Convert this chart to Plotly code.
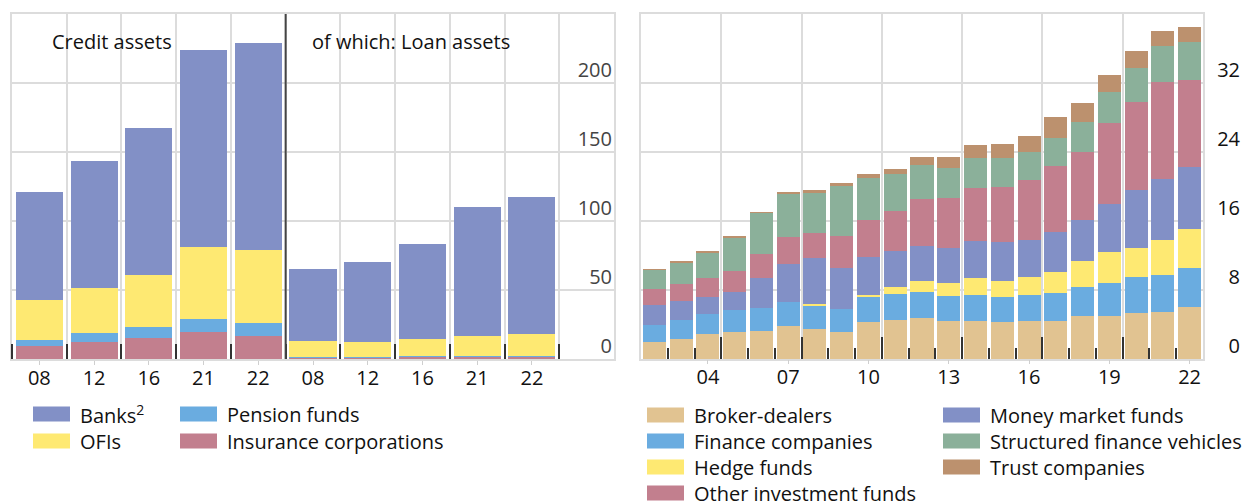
import plotly.graph_objects as go

W, H = 1242, 502


def px(x):
    return x / W


def py(y):
    return 1 - y / H


# ---------------- data: left panel (credit assets / of which loan assets) ----------------
periods = ["08", "12", "16", "21", "22"]
banks_credit = [78.3, 92.5, 106.5, 142.8, 150.5]
ofis_credit = [29.0, 32.6, 37.7, 52.2, 52.4]
pension_credit = [4.8, 6.5, 7.9, 9.9, 9.4]
insurance_credit = [9.2, 12.1, 15.5, 19.3, 16.9]

banks_loan = [52.2, 57.9, 68.9, 93.5, 99.7]
ofis_loan = [12.1, 11.4, 12.8, 14.6, 16.0]
pension_loan = [0.2, 0.2, 0.2, 0.5, 0.2]
insurance_loan = [1.0, 1.0, 1.7, 1.8, 1.7]

left_ticks = [0, 50, 100, 150, 200]

# ---------------- data: right panel (OFI sub-sectors) ----------------
years = list(range(2002, 2023))
broker_dealers = [1.97, 2.32, 2.90, 3.13, 3.25, 3.83, 3.48, 3.13, 4.29, 4.52, 4.75,
                  4.41, 4.41, 4.29, 4.41, 4.41, 4.99, 4.99, 5.33, 5.45, 6.03]
finance_companies = [1.97, 2.20, 2.32, 2.55, 2.66, 2.78, 2.78, 2.67, 3.01, 3.02, 3.02,
                     2.89, 3.01, 2.90, 3.01, 3.24, 3.36, 3.82, 4.18, 4.29, 4.52]
hedge_funds = [0, 0, 0, 0, 0, 0, 0.12, 0, 0.12, 0.81, 1.27,
               1.51, 1.97, 1.85, 2.09, 2.44, 3.01, 3.60, 3.36, 4.06, 4.52]
money_market_funds = [2.32, 2.20, 1.97, 2.09, 3.48, 4.40, 5.37, 4.79, 4.41, 4.17, 4.06,
                      4.06, 4.29, 4.56, 4.33, 4.67, 4.76, 5.56, 6.72, 7.07, 7.19]
other_investment_funds = [1.86, 1.98, 2.20, 2.43, 2.78, 3.13, 2.86, 3.67, 4.29, 4.64, 5.45,
                          5.80, 6.15, 6.34, 6.91, 7.62, 7.88, 9.39, 10.21, 11.25, 10.09]
structured_finance = [2.20, 2.51, 2.98, 3.94, 4.76, 4.99, 4.75, 5.84, 4.87, 4.29, 3.94,
                      3.47, 3.51, 3.40, 3.25, 3.24, 3.48, 3.60, 3.94, 4.17, 4.40]
trust_companies = [0.08, 0.07, 0.07, 0.04, 0.04, 0.23, 0.23, 0.31, 0.46, 0.58, 0.93,
                   1.28, 1.47, 1.59, 1.86, 2.44, 2.20, 1.97, 1.97, 1.74, 1.74]

right_tick_years = [2004, 2007, 2010, 2013, 2016, 2019, 2022]
right_tick_text = ["04", "07", "10", "13", "16", "19", "22"]
right_ticks = [0, 8, 16, 24, 32]

# ---------------- styles ----------------
PURPLE = "#8290C6"
YELLOW = "#FEE972"
BLUE = "#6AACE0"
PINK = "#C27F8E"
TAN = "#E1C391"
GREEN = "#8BB09A"
BROWN = "#BC916E"
GRID = "#dcdcdc"
TICKDARK = "#333333"
TEXT = "#111111"
FONT = "Open Sans"

fig = go.Figure()

# left panel traces, stacked bottom-up
left_x = list(range(2 * len(periods)))
left_series = [
    ("Insurance corporations", insurance_credit + insurance_loan, PINK),
    ("Pension funds", pension_credit + pension_loan, BLUE),
    ("OFIs", ofis_credit + ofis_loan, YELLOW),
    ("Banks<sup>2</sup>", banks_credit + banks_loan, PURPLE),
]
for name, vals, col in left_series:
    fig.add_trace(go.Bar(x=left_x, y=vals, name=name, marker=dict(color=col, line=dict(width=0)),
                         xaxis="x", yaxis="y", showlegend=False))

right_series = [
    ("Broker-dealers", broker_dealers, TAN),
    ("Finance companies", finance_companies, BLUE),
    ("Hedge funds", hedge_funds, YELLOW),
    ("Money market funds", money_market_funds, PURPLE),
    ("Other investment funds", other_investment_funds, PINK),
    ("Structured finance vehicles", structured_finance, GREEN),
    ("Trust companies", trust_companies, BROWN),
]
for name, vals, col in right_series:
    fig.add_trace(go.Bar(x=years, y=vals, name=name, marker=dict(color=col, line=dict(width=0)),
                         xaxis="x2", yaxis="y2", showlegend=False))

# empty helper traces so the overlay axes (labels / long ticks) get drawn
fig.add_trace(go.Scatter(x=[], y=[], xaxis="x3", yaxis="y2", showlegend=False, hoverinfo="skip"))
fig.add_trace(go.Scatter(x=[], y=[], xaxis="x2", yaxis="y3", showlegend=False, hoverinfo="skip"))

left_dom_x = [px(12), px(614)]
right_dom_x = [px(641), px(1203)]
dom_y = [py(359), py(14)]

left_bounds = [i - 0.5 for i in range(len(left_x) + 1)]
right_bounds_all = [y - 0.5 for y in years] + [years[-1] + 0.5]
right_bounds_long = [years[0] - 0.5] + [y + 0.5 for y in right_tick_years]

common_line = dict(showline=True, mirror=True, linecolor=GRID, linewidth=2, zeroline=False)

fig.update_layout(
    width=W, height=H,
    margin=dict(l=0, r=0, t=0, b=0, pad=0),
    paper_bgcolor="white", plot_bgcolor="white",
    barmode="stack", bargap=0.14,
    showlegend=False,
    font=dict(family=FONT, size=20, color=TEXT),
    # left panel: labels at centres, dark boundary ticks (minor) + vertical grid
    xaxis=dict(domain=left_dom_x, range=[-0.5, len(left_x) + 0.5], anchor="y",
               tickmode="array", tickvals=left_x, ticktext=periods + periods,
               ticks="outside", ticklen=4, tickwidth=1, tickcolor="#cfcfcf",
               ticklabelstandoff=-4, showgrid=False,
               minor=dict(tickmode="array", tickvals=left_bounds, ticks="inside", ticklen=15,
                          tickwidth=1.5, tickcolor=TICKDARK, showgrid=True, gridcolor=GRID,
                          gridwidth=2),
               **common_line),
    yaxis=dict(domain=dom_y, range=[0, 250], anchor="x", side="right",
               tickmode="array", tickvals=left_ticks, ticks="",
               ticklabelposition="inside", ticklabelshift=-13, ticklabelstandoff=3,
               showgrid=True, gridcolor=GRID, gridwidth=2, **common_line),
    # right panel
    xaxis2=dict(domain=right_dom_x, range=[years[0] - 0.5, years[-1] + 0.5], anchor="y2",
                tickmode="array", tickvals=right_bounds_long, showticklabels=False,
                ticks="inside", ticklen=22, tickwidth=1.5, tickcolor=TICKDARK,
                showgrid=True, gridcolor=GRID, gridwidth=2,
                minor=dict(tickmode="array", tickvals=right_bounds_all, ticks="inside", ticklen=11,
                           tickwidth=1.5, tickcolor=TICKDARK, showgrid=False),
                **common_line),
    xaxis3=dict(overlaying="x2", anchor="y2", range=[years[0] - 0.5, years[-1] + 0.5],
                tickmode="array", tickvals=right_tick_years, ticktext=right_tick_text,
                ticks="outside", ticklen=4, tickwidth=1, tickcolor="#cfcfcf",
                ticklabelstandoff=-4, showgrid=False, showline=False, zeroline=False),
    yaxis2=dict(domain=dom_y, range=[0, 40], anchor="x2", side="right",
                tickmode="array", tickvals=right_ticks, showticklabels=False, ticks="",
                showgrid=True, gridcolor=GRID, gridwidth=2, **common_line),
    yaxis3=dict(overlaying="y2", anchor="free", position=px(1241), side="left", range=[0, 40],
                tickmode="array", tickvals=right_ticks, ticks="",
                ticklabelposition="outside", ticklabelshift=-13, ticklabelstandoff=1,
                showgrid=False, showline=False, zeroline=False),
)

# divider between "Credit assets" and "of which: Loan assets"
fig.add_shape(type="line", xref="x", yref="y domain", x0=len(periods) - 0.5, x1=len(periods) - 0.5,
              y0=0, y1=1, line=dict(color="#444444", width=2), layer="above")

# panel titles
fig.add_annotation(text="Credit assets", xref="paper", yref="paper", x=px(112), y=py(41),
                   xanchor="center", yanchor="middle", showarrow=False, font=dict(size=20, color=TEXT))
fig.add_annotation(text="of which: Loan assets", xref="paper", yref="paper", x=px(411), y=py(41),
                   xanchor="center", yanchor="middle", showarrow=False, font=dict(size=20, color=TEXT))


# manual legends (larger swatches like the reference)
def legend_item(label, color, sx, cy):
    fig.add_shape(type="rect", xref="paper", yref="paper",
                  x0=px(sx), x1=px(sx + 37), y0=py(cy + 7.5), y1=py(cy - 7.5),
                  fillcolor=color, line=dict(width=0), layer="above")
    fig.add_annotation(text=label, xref="paper", yref="paper", x=px(sx + 45), y=py(cy),
                       xanchor="left", yanchor="middle", showarrow=False,
                       font=dict(size=20, color=TEXT))


left_legend = [("Banks<sup>2</sup>", PURPLE, 33, 414), ("Pension funds", BLUE, 180, 414),
               ("OFIs", YELLOW, 33, 441), ("Insurance corporations", PINK, 180, 441)]
for lab, col, sx, cy in left_legend:
    legend_item(lab, col, sx, cy)

right_cols = [647, 943]
right_rows = [415, 441, 467, 493]
right_order = [0, 1, 2, 4, 3, 5, 6]  # column-wise: 4 in first column, 3 in second
for k, idx in enumerate(right_order):
    name, _, col = right_series[idx]
    c = 0 if k < 4 else 1
    r = k if k < 4 else k - 4
    legend_item(name, col, right_cols[c], right_rows[r])

fig.write_html("out.html", config={"displayModeBar": False},
               post_script="document.body.style.margin='0';")
